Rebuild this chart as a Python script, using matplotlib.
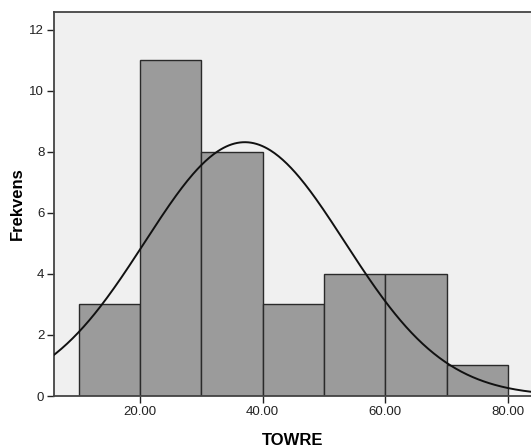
import numpy as np
import matplotlib
matplotlib.use('Agg')
import matplotlib.pyplot as plt

plt.rcParams['font.family'] = ['Liberation Sans', 'DejaVu Sans']

# 直方图数据
bin_edges = [10, 20, 30, 40, 50, 60, 70, 80]
counts = [3, 11, 8, 3, 4, 4, 1]
mean_val = 37.1
std_val = 16.3
n_total = sum(counts)
bin_width = 10

x_ticks = [20, 40, 60, 80]
x_labels = ['20.00', '40.00', '60.00', '80.00']
y_ticks = [0, 2, 4, 6, 8, 10, 12]

fig = plt.figure(figsize=(5.31, 4.48), dpi=100)
ax = fig.add_axes([54 / 531, 52 / 448, 1 - 54 / 531, 384 / 448])
ax.set_facecolor('#f0f0f0')

ax.bar(bin_edges[:-1], counts, width=bin_width, align='edge',
       color='#9b9b9b', edgecolor='#2a2a2a', linewidth=1.0, zorder=2)

# 正态曲线
xs = np.linspace(0, 90, 400)
ys = n_total * bin_width / (std_val * np.sqrt(2 * np.pi)) * np.exp(-(xs - mean_val) ** 2 / (2 * std_val ** 2))
ax.plot(xs, ys, color='#111111', linewidth=1.4, zorder=3)

ax.set_xlim(6, 83.75)
ax.set_ylim(0, 12.59)
ax.set_xticks(x_ticks)
ax.set_xticklabels(x_labels)
ax.set_yticks(y_ticks)
ax.tick_params(axis='both', direction='out', length=5, width=1, color='#222222',
               labelsize=9.5, labelcolor='#222222', pad=2)

for side in ['left', 'bottom', 'top']:
    ax.spines[side].set_color('#444444')
    ax.spines[side].set_linewidth(1.3)
ax.spines['right'].set_visible(False)

ax.set_xlabel('TOWRE', fontsize=12, fontweight='bold', va='center')
ax.set_ylabel('Frekvens', fontsize=12, fontweight='bold', va='center')
ax.xaxis.set_label_coords(0.501, -44 / 384)
ax.yaxis.set_label_coords(-37 / 477, 0.5)

fig.savefig('out.png', dpi=100, facecolor='white')
